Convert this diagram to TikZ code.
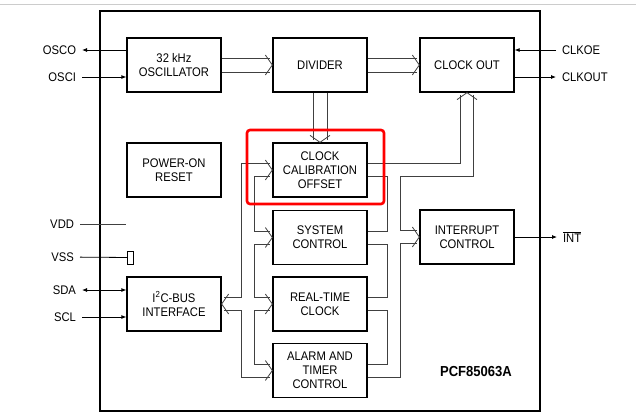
\documentclass[tikz,border=0pt]{standalone}
\usepackage{fontspec}
\setmainfont[FakeStretch=0.9]{Liberation Sans}
\usetikzlibrary{calc,arrows.meta}

\tikzset{
	blk/.style={draw, line width=1.3pt, minimum width=94pt, minimum height=54pt, inner sep=0pt, align=center, font=\fontsize{12.5}{14}\selectfont},
	lbl/.style={inner sep=0pt, outer xsep=6pt, font=\fontsize{12.5}{14}\selectfont},
	sig/.style={line width=0.8pt, -{Latex[length=5pt,width=4pt]}},
	bus/.style={line width=0.8pt, black!75},
	chev/.pic={\draw[line width=0.8pt, black!75] (-7,-10) -- (0,0) -- (-7,10);}
}

\begin{document}
\begin{tikzpicture}[x=1pt, y=-1pt]
			%%%%% START %%%%%
			\useasboundingbox (0,0) rectangle (636,413);
			\draw[black!20, line width=1pt] (0,4) -- (636,4);
			
			% chip outline
			\draw[line width=1.3pt] (100,11) rectangle (540,411);
			
			\node[blk] (osc) at (174,65) {32 kHz\\OSCILLATOR};
			\node[blk] (div) at (320,65) {DIVIDER};
			\node[blk] (clkout) at (467,65) {CLOCK OUT};
			\node[blk] (por) at (174,170) {POWER-ON\\RESET};
			\node[blk] (cal) at (320,170) {CLOCK\\CALIBRATION\\OFFSET};
			\node[blk] (sys) at (320,237.5) {SYSTEM\\CONTROL};
			\node[blk] (rtc) at (320,304) {REAL-TIME\\CLOCK};
			\node[blk] (alarm) at (320,370.5) {ALARM AND\\TIMER\\CONTROL};
			\node[blk] (intc) at (467,237) {INTERRUPT\\CONTROL};
			\node[blk] (i2c) at (174,304) {I\textsuperscript{2}C-BUS\\INTERFACE};
			
			\node[font=\bfseries\fontsize{14.5}{16}\selectfont] (partno) at (476,372) {PCF85063A};
			
			% bus rails
			\coordinate (lo) at (241,0);
			\coordinate (li) at (254,0);
			\coordinate (ri) at (387,0);
			\coordinate (ro) at (400,0);
			\foreach \b in {cal,sys,rtc,alarm}{
				\coordinate (\b-wu) at ($(\b.west)+(-2.5,-6.5)$);
				\coordinate (\b-wd) at ($(\b.west)+(-2.5,6.5)$);
				\coordinate (\b-eu) at ($(\b.east)+(0,-6.5)$);
				\coordinate (\b-ed) at ($(\b.east)+(0,6.5)$);
				\pic at (\b.west) {chev};
			}
			\coordinate (i2c-eu) at ($(i2c.east)+(2.5,-6.5)$);
			\coordinate (i2c-ed) at ($(i2c.east)+(2.5,6.5)$);
			\coordinate (intc-wu) at ($(intc.west)+(-2.5,-6.5)$);
			\coordinate (intc-wd) at ($(intc.west)+(-2.5,6.5)$);
			
			% oscillator -> divider -> clock out
			\draw[bus] ($(osc.east)+(0,-7)$) -- ($(div.west)+(-2.5,-7)$);
			\draw[bus] ($(osc.east)+(0,7)$) -- ($(div.west)+(-2.5,7)$);
			\pic at (div.west) {chev};
			\draw[bus] ($(div.east)+(0,-7)$) -- ($(clkout.west)+(-2.5,-7)$);
			\draw[bus] ($(div.east)+(0,7)$) -- ($(clkout.west)+(-2.5,7)$);
			\pic at (clkout.west) {chev};
			
			% divider -> calibration
			\draw[bus] ($(div.south)+(-7,0)$) -- ($(cal.north)+(-7,-2.5)$);
			\draw[bus] ($(div.south)+(7,0)$) -- ($(cal.north)+(7,-2.5)$);
			\pic[rotate=-90] at (cal.north) {chev};
			
			% left bus
			\draw[bus] (cal-wu) -| (lo |- i2c-eu) -- (i2c-eu);
			\draw[bus] (i2c-ed) -| (lo |- alarm-wd) -- (alarm-wd);
			\draw[bus] (cal-wd) -| (li |- sys-wu) -- (sys-wu);
			\draw[bus] (sys-wd) -| (li |- rtc-wu) -- (rtc-wu);
			\draw[bus] (rtc-wd) -| (li |- alarm-wu) -- (alarm-wu);
			\pic[rotate=180] at (i2c.east) {chev};
			
			% right bus
			\draw[bus] (cal-eu) -| ($(clkout.south)+(-6.5,2.5)$);
			\draw[bus] ($(clkout.south)+(6.5,2.5)$) |- (ro |- cal-ed) |- (intc-wu);
			\draw[bus] (cal-ed) -| (ri |- sys-eu) -- (sys-eu);
			\draw[bus] (sys-ed) -| (ri |- rtc-eu) -- (rtc-eu);
			\draw[bus] (rtc-ed) -| (ri |- alarm-eu) -- (alarm-eu);
			\draw[bus] (alarm-ed) -| (ro |- intc-wd) -- (intc-wd);
			\pic[rotate=90] at (clkout.south) {chev};
			\pic at (intc.west) {chev};
			
			% pins
			\node[lbl, anchor=east] (osco) at (82,50) {OSCO};
			\node[lbl, anchor=east] (osci) at (82,77) {OSCI};
			\node[lbl, anchor=east] (vdd) at (80,224) {VDD};
			\node[lbl, anchor=east] (vss) at (80,257) {VSS};
			\node[lbl, anchor=east] (sda) at (82,290) {SDA};
			\node[lbl, anchor=east] (scl) at (82,317) {SCL};
			\node[lbl, anchor=west] (clkoe) at (556,50) {CLKOE};
			\node[lbl, anchor=west] (clkoutpin) at (556,77) {CLKOUT};
			\node[lbl, anchor=west] (intpin) at (557,237) {$\overline{\hbox{INT}}$};
			\node[draw, line width=0.8pt, minimum width=6pt, minimum height=13pt, inner sep=0pt] (vsspad) at (130.5,257.5) {};
			
			\draw[sig] (osc.west |- osco) -- (osco);
			\draw[sig] (osci) -- (osc.west |- osci);
			\draw[line width=0.8pt, black!75] (vdd) -- (i2c.west |- vdd);
			\draw[line width=0.8pt] (vss) -- (vsspad);
			\draw[sig, {Latex[length=5pt,width=4pt]}-{Latex[length=5pt,width=4pt]}] (sda) -- (i2c.west |- sda);
			\draw[sig] (scl) -- (i2c.west |- scl);
			\draw[sig] (clkoe) -- (clkout.east |- clkoe);
			\draw[sig] (clkout.east |- clkoutpin) -- (clkoutpin);
			\draw[sig] (intc.east |- intpin) -- (intpin);
			
			% highlight
			\draw[red, line width=2.6pt, rounded corners=3pt] (247,130) rectangle (384,204);
			%%%%% END %%%%%
\end{tikzpicture}
\end{document}
